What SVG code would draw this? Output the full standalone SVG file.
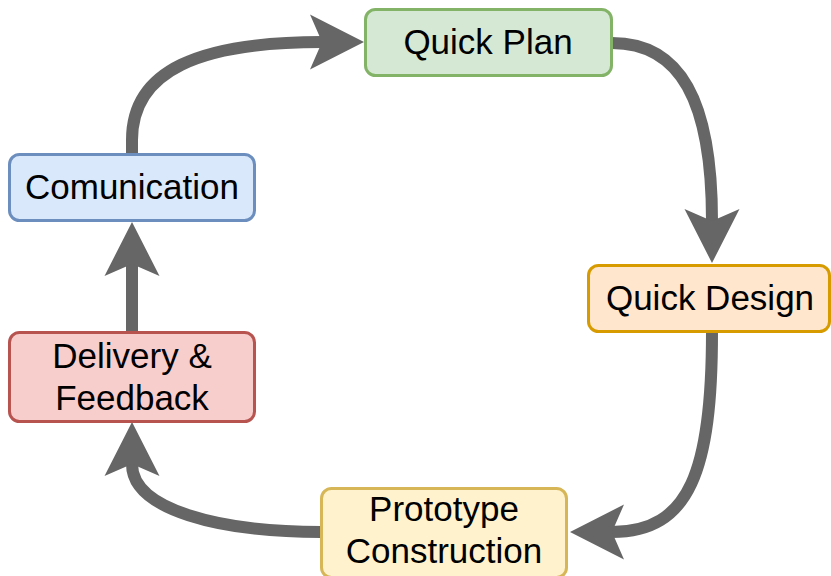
<svg xmlns="http://www.w3.org/2000/svg" width="831" height="576" viewBox="0 0 831 576">
<style>
.node rect{stroke-width:3}
.node text{font-family:"Liberation Sans",Arial,sans-serif;font-size:35px;fill:#000;text-anchor:middle}
.edge{fill:none;stroke:#666666;stroke-width:12}
</style>
<defs>
<marker id="arr" markerUnits="userSpaceOnUse" markerWidth="60" markerHeight="60" refX="12" refY="27.5" orient="auto" overflow="visible">
<path d="M54,27.5 L0,0 L12,27.5 L0,55 Z" fill="#666666"/>
</marker>
</defs>
<g id="connectors">
<path class="edge" d="M132,154 L132,140 C132,70 200,42 322,42" marker-end="url(#arr)"/>
<path class="edge" d="M612,43 C680,43 712,100 712,221" marker-end="url(#arr)"/>
<path class="edge" d="M712,332 C712,470 690,532 612,532" marker-end="url(#arr)"/>
<path class="edge" d="M321,532 C220,532 132,510 132,464" marker-end="url(#arr)"/>
<path class="edge" d="M132,332 L132,264" marker-end="url(#arr)"/>
</g>
<g id="comunication" class="node">
<rect x="9.5" y="154.5" width="245" height="66" rx="10" fill="#dae8fc" stroke="#6c8ebf"/>
<text x="132" y="199">Comunication</text>
</g>
<g id="quick-plan" class="node">
<rect x="365.5" y="9.5" width="246" height="66" rx="10" fill="#d5e8d4" stroke="#82b366"/>
<text x="488" y="54">Quick Plan</text>
</g>
<g id="quick-design" class="node">
<rect x="588.5" y="265.5" width="241" height="66" rx="10" fill="#ffe6cc" stroke="#d79b00"/>
<text x="710" y="310">Quick Design</text>
</g>
<g id="prototype-construction" class="node">
<rect x="321.5" y="488.5" width="245" height="89" rx="10" fill="#fff2cc" stroke="#d6b656"/>
<text x="444" y="521">Prototype</text>
<text x="444" y="563">Construction</text>
</g>
<g id="delivery-feedback" class="node">
<rect x="9.5" y="332.5" width="245" height="89" rx="10" fill="#f8cecc" stroke="#b85450"/>
<text x="132" y="368">Delivery &amp;</text>
<text x="132" y="410">Feedback</text>
</g>
</svg>
